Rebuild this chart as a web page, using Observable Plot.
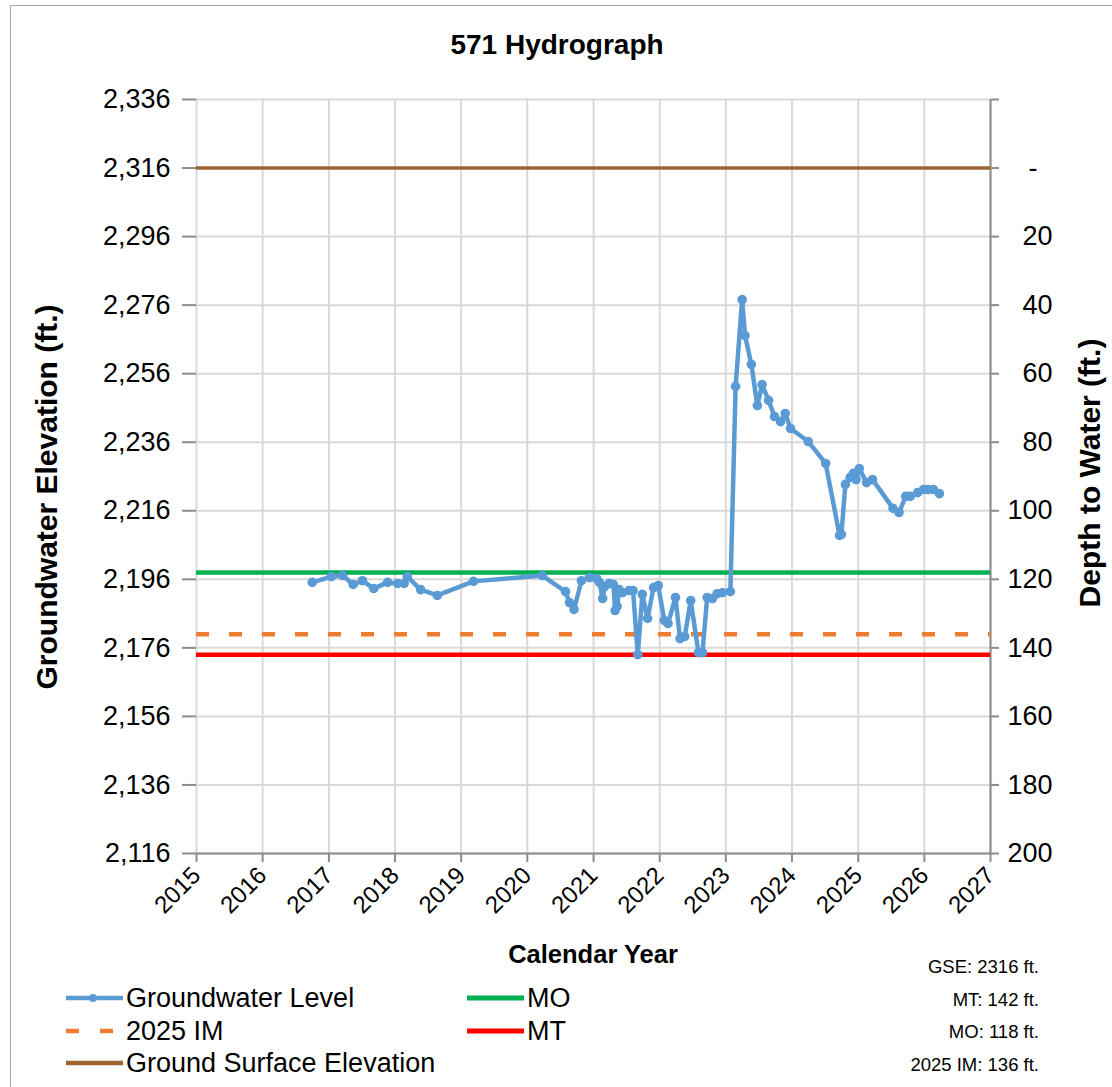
<!DOCTYPE html>
<html><head><meta charset="utf-8">
<script src="https://cdn.jsdelivr.net/npm/d3@7"></script>
<script src="https://cdn.jsdelivr.net/npm/@observablehq/plot@0.6"></script>
<style>
body{margin:0;background:#fff;}
#wrap{position:relative;width:1112px;height:1087px;overflow:hidden;font-family:"Liberation Sans",Arial,sans-serif;color:#000;}
#frame{position:absolute;left:10px;top:5px;width:1120px;height:1100px;border:1.5px solid #a6a6a6;box-sizing:border-box;}
.t{position:absolute;white-space:nowrap;line-height:1;}
#plot{position:absolute;left:0;top:0;}
</style></head><body><div id="wrap"><div id="frame"></div><div id="plot"></div></div>
<script>
// ---- data ----
const years = [2015,2016,2017,2018,2019,2020,2021,2022,2023,2024,2025,2026,2027];
const elevTicks = [2116,2136,2156,2176,2196,2216,2236,2256,2276,2296,2316,2336];
const gse = 2316;          // Ground Surface Elevation (ft)
const mtDepth = 142, moDepth = 118, imDepth = 136;
const gwDates = ["2016-10-01","2017-01-15","2017-03-18","2017-05-15","2017-07-05","2017-09-05","2017-11-21","2018-01-15","2018-02-20","2018-03-10","2018-05-22","2018-08-22","2019-03-10","2020-03-24","2020-07-30","2020-08-21","2020-09-15","2020-10-26","2020-12-09","2021-01-18","2021-02-02","2021-02-20","2021-03-03","2021-03-29","2021-04-20","2021-04-30","2021-05-11","2021-05-22","2021-06-10","2021-07-16","2021-08-07","2021-09-02","2021-09-27","2021-10-26","2021-11-28","2021-12-24","2022-01-26","2022-02-16","2022-03-29","2022-04-23","2022-05-19","2022-06-21","2022-08-03","2022-08-25","2022-09-20","2022-10-19","2022-11-14","2022-12-13","2023-01-26","2023-02-24","2023-04-01","2023-04-17","2023-05-22","2023-06-24","2023-07-20","2023-08-25","2023-09-27","2023-10-30","2023-11-25","2023-12-24","2024-03-31","2024-07-05","2024-09-20","2024-09-30","2024-10-22","2024-11-17","2024-12-05","2024-12-20","2025-01-07","2025-02-16","2025-03-21","2025-07-12","2025-08-14","2025-09-20","2025-10-15","2025-11-25","2025-12-27","2026-01-22","2026-02-20","2026-03-25"];
const gwElev = [2195.1,2196.8,2197.1,2194.5,2195.6,2193.3,2195.1,2194.8,2194.8,2196.8,2193.0,2191.3,2195.4,2197.1,2192.4,2189.2,2187.2,2195.6,2196.5,2196.2,2195.1,2190.4,2193.9,2194.8,2194.5,2186.9,2188.1,2193.0,2192.1,2192.7,2192.7,2174.0,2191.6,2184.6,2193.6,2194.2,2184.0,2183.1,2190.7,2178.7,2179.3,2189.8,2174.6,2174.6,2190.7,2190.4,2191.8,2192.1,2192.4,2252.3,2277.6,2267.1,2258.7,2246.7,2252.8,2248.2,2243.5,2242.0,2244.4,2240.0,2236.2,2229.8,2208.8,2209.1,2223.7,2225.7,2226.9,2225.1,2228.3,2224.2,2225.1,2216.7,2215.5,2220.2,2220.2,2221.3,2222.2,2222.2,2222.2,2221.0];
const legendLabels = ["Groundwater Level","2025 IM","Ground Surface Elevation","MO","MT"];
const noteLabels = ["GSE: 2316 ft.","MT: 142 ft.","MO: 118 ft.","2025 IM: 136 ft."];

// ---- styles ----
const C = {gw:"#5B9BD5", mo:"#00B050", mt:"#FF0000", im:"#ED7D31", gse:"#A0652E", grid:"#d9d9d9", axis:"#8c8c8c"};
const FONT = '"Liberation Sans",Arial,sans-serif';

const yearDates = years.map(y => new Date(Date.UTC(y,0,1)));
const gw = gwDates.map((d,i) => ({date: new Date(d + "T00:00:00Z"), elev: gwElev[i]}));
const depthFmt = d => { const v = gse - d; return v === 0 ? "-\u2007" : v < 0 ? "" : String(v); };

const chart = Plot.plot({
  width: 1112, height: 1087,
  marginLeft: 196, marginRight: 122, marginTop: 99, marginBottom: 234,
  x: {type: "utc", domain: [yearDates[0], yearDates[yearDates.length-1]]},
  y: {domain: [elevTicks[0], elevTicks[elevTicks.length-1]]},
  style: {fontFamily: FONT, background: "transparent", color: "#000", overflow: "visible"},
  marks: [
    Plot.gridX(yearDates, {stroke: C.grid, strokeOpacity: 1, strokeWidth: 2}),
    Plot.gridY(elevTicks, {stroke: C.grid, strokeOpacity: 1, strokeWidth: 2}),
    Plot.axisX(yearDates, {tickFormat: d => String(d.getUTCFullYear()), tickRotate: -45, tickSize: 9, tickPadding: 9, stroke: C.axis, strokeWidth: 2, fontSize: 24, label: null}),
    Plot.axisY(elevTicks, {anchor: "left", tickFormat: d3.format(","), tickSize: 14, tickPadding: 12, stroke: C.axis, strokeWidth: 2, fontSize: 27, label: null}),
    Plot.axisY(elevTicks, {anchor: "right", tickFormat: depthFmt, tickSize: 8, tickPadding: 54, textAnchor: "end", stroke: C.axis, strokeWidth: 2, fontSize: 27, label: null}),
    Plot.ruleY([elevTicks[0]], {stroke: C.axis, strokeWidth: 2}),
    Plot.ruleX([yearDates[yearDates.length-1]], {stroke: C.axis, strokeWidth: 2}),
    Plot.ruleY([gse], {stroke: C.gse, strokeWidth: 3.5}),
    Plot.ruleY([gse - moDepth], {stroke: C.mo, strokeWidth: 4.5}),
    Plot.ruleY([gse - imDepth], {stroke: C.im, strokeWidth: 4.5, strokeDasharray: "13,20"}),
    Plot.ruleY([gse - mtDepth], {stroke: C.mt, strokeWidth: 4.5}),
    Plot.line(gw, {x: "date", y: "elev", stroke: C.gw, strokeWidth: 4.5, curve: "linear"}),
    Plot.dot(gw, {x: "date", y: "elev", r: 4.8, fill: C.gw, stroke: "none"})
  ]
});
document.getElementById("plot").appendChild(chart);

// ---- text & legend overlays ----
const wrap = document.getElementById("wrap");
function addText(txt, x, y, size, opts = {}) {
  const d = document.createElement("div");
  d.className = "t";
  d.textContent = txt;
  d.style.fontSize = size + "px";
  if (opts.bold) d.style.fontWeight = "bold";
  d.style.left = x + "px";
  d.style.top = y + "px";
  const ax = opts.anchor === "end" ? "-100%" : opts.anchor === "start" ? "0" : "-50%";
  d.style.transform = opts.rotate ? `translate(-50%,-50%) rotate(${opts.rotate}deg)` : `translate(${ax},-50%)`;
  wrap.appendChild(d);
}
addText("571 Hydrograph", 557, 45, 28, {bold: true});
addText("Groundwater Elevation (ft.)", 47, 497, 30, {bold: true, rotate: -90});
addText("Depth to Water (ft.)", 1090, 473, 30, {bold: true, rotate: -90});
addText("Calendar Year", 593, 955, 25.5, {bold: true});
noteLabels.forEach((t, i) => addText(t, 1039, 967 + i * 32.5, 18.5, {anchor: "end"}));

// legend samples
const ns = "http://www.w3.org/2000/svg";
const lg = document.createElementNS(ns, "svg");
lg.setAttribute("width", 1112); lg.setAttribute("height", 1087);
lg.style.position = "absolute"; lg.style.left = "0"; lg.style.top = "0"; lg.style.pointerEvents = "none";
function seg(x1, x2, y, color, w, dash) {
  const l = document.createElementNS(ns, "line");
  l.setAttribute("x1", x1); l.setAttribute("x2", x2); l.setAttribute("y1", y); l.setAttribute("y2", y);
  l.setAttribute("stroke", color); l.setAttribute("stroke-width", w);
  if (dash) l.setAttribute("stroke-dasharray", dash);
  lg.appendChild(l);
}
const legendItems = [
  {label: legendLabels[0], color: C.gw, x: 66, y: 998, w: 4.5, dot: true},
  {label: legendLabels[1], color: C.im, x: 66, y: 1031, w: 4.5, dash: "13,21"},
  {label: legendLabels[2], color: C.gse, x: 66, y: 1063, w: 4.5},
  {label: legendLabels[3], color: C.mo, x: 467, y: 998, w: 5},
  {label: legendLabels[4], color: C.mt, x: 467, y: 1031, w: 5}
];
legendItems.forEach(it => {
  seg(it.x, it.x + 57, it.y, it.color, it.w, it.dash);
  if (it.dot) {
    const c = document.createElementNS(ns, "circle");
    c.setAttribute("cx", it.x + 27); c.setAttribute("cy", it.y); c.setAttribute("r", 4); c.setAttribute("fill", it.color);
    lg.appendChild(c);
  }
  addText(it.label, it.x + 60, it.y, 27, {anchor: "start"});
});
wrap.appendChild(lg);
</script>
</body></html>
